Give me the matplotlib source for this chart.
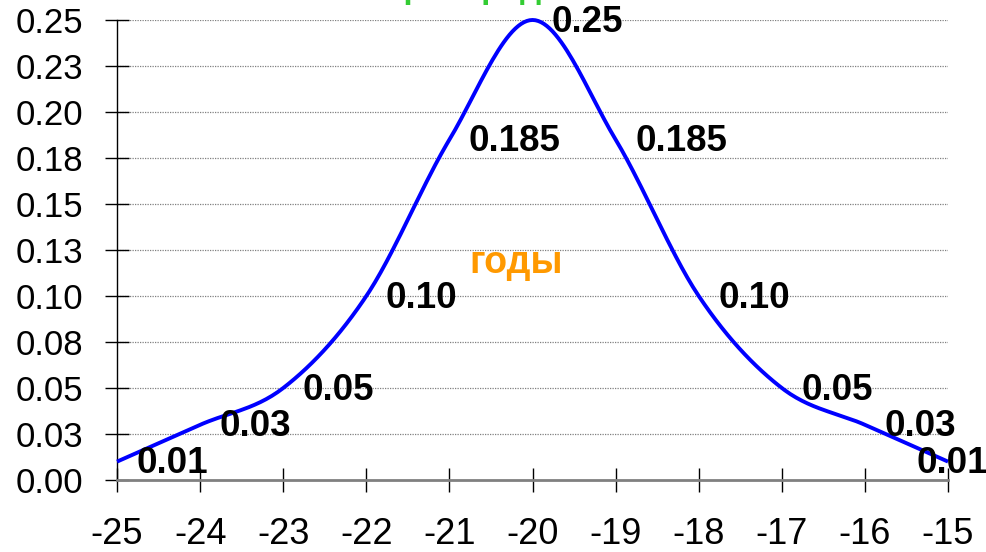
import numpy as np
import matplotlib.pyplot as plt

plt.rcParams['font.family'] = ['Liberation Sans', 'DejaVu Sans']

# data
temps = [-25, -24, -23, -22, -21, -20, -19, -18, -17, -16, -15]
probs = [0.01, 0.03, 0.05, 0.10, 0.185, 0.25, 0.185, 0.10, 0.05, 0.03, 0.01]
labels = ['0.01', '0.03', '0.05', '0.10', '0.185', '0.25',
          '0.185', '0.10', '0.05', '0.03', '0.01']
yticks = [0, 0.025, 0.05, 0.075, 0.1, 0.125, 0.15, 0.175, 0.2, 0.225, 0.25]
ytick_labels = ['0.00', '0.03', '0.05', '0.08', '0.10', '0.13',
                '0.15', '0.18', '0.20', '0.23', '0.25']
title = 'Плотность распределения'
xlabel = 'годы'


def smooth(xs, ys, n=30):
    # catmull-rom style smoothing (like excel "smoothed line")
    px = [xs[0]] + list(xs) + [xs[-1]]
    py = [ys[0]] + list(ys) + [ys[-1]]
    out_x, out_y = [], []
    t = np.linspace(0, 1, n)
    for i in range(1, len(px) - 2):
        p0 = np.array([px[i - 1], py[i - 1]])
        p1 = np.array([px[i], py[i]])
        p2 = np.array([px[i + 1], py[i + 1]])
        p3 = np.array([px[i + 2], py[i + 2]])
        c1 = p1 + (p2 - p0) / 6
        c2 = p2 - (p3 - p1) / 6
        for tt in t:
            b = ((1 - tt) ** 3 * p1 + 3 * (1 - tt) ** 2 * tt * c1
                 + 3 * (1 - tt) * tt ** 2 * c2 + tt ** 3 * p2)
            out_x.append(b[0])
            out_y.append(b[1])
    return out_x, out_y


fig = plt.figure(figsize=(9.86, 5.52), dpi=100)
ax = fig.add_axes([0.1187, 0.1304, 0.9615 - 0.1187, 0.9638 - 0.1304])

sx, sy = smooth(temps, probs)
ax.plot(sx, sy, color='#0000ff', lw=2.8, zorder=3, clip_on=False,
        solid_capstyle='butt')

ax.set_xlim(-25, -15)
ax.set_ylim(0, 0.25)
ax.set_xticks(temps)
ax.set_xticklabels([str(t) for t in temps], fontsize=26)
ax.set_yticks(yticks)
ax.set_yticklabels(ytick_labels, fontsize=25)
for y in yticks[1:]:
    ax.axhline(y, color='#808080', lw=0.9, ls=(0, (1, 1)), zorder=1)

ax.tick_params(axis='y', direction='inout', length=17, width=1, pad=16, colors='black')
ax.tick_params(axis='x', direction='inout', length=17, width=1, pad=18, colors='black')

for s in ['top', 'right']:
    ax.spines[s].set_visible(False)
ax.spines['bottom'].set_color('#808080')
ax.spines['bottom'].set_linewidth(2)
ax.spines['left'].set_color('black')
ax.spines['left'].set_linewidth(1)

for i, (x, y, lab) in enumerate(zip(temps, probs, labels)):
    dx = 14 if i < len(temps) - 1 else -23
    ax.annotate(lab, (x, y), xytext=(dx, -1.5), textcoords='offset points',
                ha='left', va='center', fontsize=26.5, fontweight='bold',
                annotation_clip=False, zorder=4)

ax.text(-20.2, 0.118, xlabel, color='#ff9900', fontsize=27, fontweight='bold',
        ha='center', va='center')

fig.text(0.445, 1.003, title, color='#33cc33', fontsize=24, fontweight='bold',
         ha='center', va='baseline')

fig.savefig('out.png', dpi=100)
